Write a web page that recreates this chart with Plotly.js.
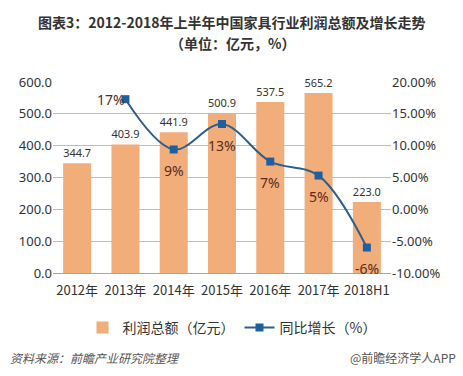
<!DOCTYPE html>
<html>
<head>
<meta charset="utf-8">
<script src="https://cdn.plot.ly/plotly-3.0.1.min.js"></script>
<style>html,body{margin:0;padding:0;background:#fff;}#chart{width:463px;height:376px;}</style>
</head>
<body>
<div id="chart"></div>
<script>
const categories = ["2012年", "2013年", "2014年", "2015年", "2016年", "2017年", "2018H1"];
const profit = [344.7, 403.9, 441.9, 500.9, 537.5, 565.2, 223.0];
const growth = [null, 17.3, 9.4, 13.4, 7.5, 5.3, -6.0];
const growthLabels = ["", "17%", "9%", "13%", "7%", "5%", "-6%"];
const leftTicks = [0, 100, 200, 300, 400, 500, 600];
const rightTicks = [-10, -5, 0, 5, 10, 15, 20];

const FONT = "Noto Sans, Noto Sans CJK SC, sans-serif";
const CJK = "Noto Sans CJK SC, sans-serif";

const traces = [
  {
    type: "bar", x: categories, y: profit, name: "利润总额（亿元）",
    marker: {color: "#F2AE7A"},
    text: profit.map(v => v.toFixed(1)), textposition: "outside",
    textfont: {size: 13, color: "#333333", family: FONT},
    cliponaxis: false, hoverinfo: "none"
  },
  {
    type: "scatter", mode: "lines+markers", x: categories, y: growth, yaxis: "y2",
    name: "同比增长（%）",
    line: {color: "#2E5F8C", width: 2, shape: "spline", smoothing: 1},
    marker: {symbol: "square", size: 8, color: "#1F5FA0"},
    cliponaxis: false, connectgaps: false, hoverinfo: "none"
  }
];

const plotW = 463 - 53 - 72, plotH = 376 - 82 - 103;
function px(x) { return (x - 53) / plotW; }
function py(y) { return (376 - 103 - y) / plotH; }

const annotations = [
  {text: "<b>图表3：2012-2018年上半年中国家具行业利润总额及增长走势</b>", xref: "paper", yref: "paper",
   x: px(232), y: py(22), xanchor: "center", yanchor: "middle", showarrow: false,
   font: {size: 14, family: CJK, color: "#333333"}},
  {text: "<b>（单位：亿元，%）</b>", xref: "paper", yref: "paper",
   x: px(232), y: py(43), xanchor: "center", yanchor: "middle", showarrow: false,
   font: {size: 14, family: CJK, color: "#333333"}},
  {text: "<i>资料来源：前瞻产业研究院整理</i>", xref: "paper", yref: "paper",
   x: px(8), y: py(357), xanchor: "left", yanchor: "middle", showarrow: false,
   font: {size: 12, family: CJK, color: "#555555"}},
  {text: "@前瞻经济学人APP", xref: "paper", yref: "paper",
   x: px(458), y: py(357), xanchor: "right", yanchor: "middle", showarrow: false,
   font: {size: 12, family: CJK, color: "#555555"}}
];

growth.forEach((g, i) => {
  if (g === null) return;
  const left = i === 1;
  annotations.push({
    text: growthLabels[i], x: categories[i], y: g, xref: "x", yref: "y2",
    showarrow: false, xanchor: left ? "right" : "center", yanchor: "middle",
    xshift: left ? 2 : 0, yshift: left ? 0 : -21,
    font: {size: 14, family: FONT, color: "#5A2A1E"}
  });
});

const layout = {
  width: 463, height: 376,
  margin: {l: 53, r: 72, t: 82, b: 103},
  paper_bgcolor: "#ffffff", plot_bgcolor: "#ffffff",
  font: {family: FONT, color: "#333333"},
  bargap: 0.42,
  showlegend: true,
  legend: {orientation: "h", x: px(232), xanchor: "center", y: py(312), yanchor: "top",
           font: {size: 14, family: CJK, color: "#333333"}, traceorder: "normal"},
  xaxis: {
    type: "category", tickfont: {size: 13, family: CJK, color: "#333333"},
    showgrid: false, showline: false, ticks: "", fixedrange: true, ticklabelstandoff: 8
  },
  yaxis: {
    range: [0, 600], tickvals: leftTicks, ticktext: leftTicks.map(v => v.toFixed(1)),
    tickfont: {size: 13, color: "#333333"}, showgrid: true, gridcolor: "#BFBFBF", gridwidth: 1,
    zeroline: true, zerolinecolor: "#A6A6A6", zerolinewidth: 1, ticks: "", showline: false
  },
  yaxis2: {
    overlaying: "y", side: "right", range: [-10, 20],
    tickvals: rightTicks, ticktext: rightTicks.map(v => v.toFixed(2) + "%"),
    tickfont: {size: 13, color: "#333333"}, showgrid: false, zeroline: false, ticks: "", showline: false
  },
  annotations: annotations
};

Plotly.newPlot("chart", traces, layout, {displayModeBar: false, staticPlot: true});
</script>
</body>
</html>
